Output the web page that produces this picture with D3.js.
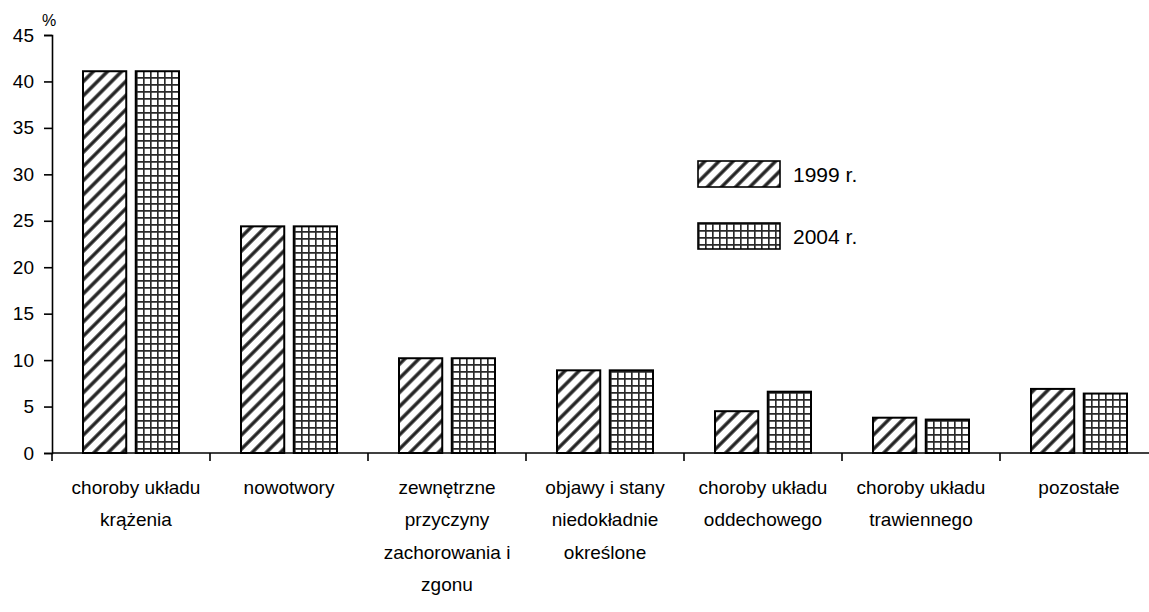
<!DOCTYPE html>
<html>
<head>
<meta charset="utf-8">
<script src="https://cdn.jsdelivr.net/npm/d3@7"></script>
<style>
  body { margin: 0; background: #fff; }
  text { font-family: "Liberation Sans", Arial, sans-serif; fill: #000; }
</style>
</head>
<body>
<div id="drawingArea"></div>
<script>
// data
var categories = [
    "choroby układu\nkrążenia",
    "nowotwory",
    "zewnętrzne\nprzyczyny\nzachorowania i\nzgonu",
    "objawy i stany\nniedokładnie\nokreślone",
    "choroby układu\noddechowego",
    "choroby układu\ntrawiennego",
    "pozostałe"
];
var seriesNames = ["1999 r.", "2004 r."];
var values1999 = [41.1, 24.4, 10.2, 8.9, 4.5, 3.8, 6.9];
var values2004 = [41.1, 24.4, 10.2, 8.9, 6.6, 3.6, 6.4];
var yTicks = [0, 5, 10, 15, 20, 25, 30, 35, 40, 45];

var margin = {top: 35, right: 0, bottom: 159, left: 52},
    fullWidth = 1149, fullHeight = 612,
    width = 1106,
    height = fullHeight - margin.top - margin.bottom;

var svg = d3.select("#drawingArea").append("svg")
    .attr("width", fullWidth)
    .attr("height", fullHeight);

// patterns
var defs = svg.append("defs");
var diag = defs.append("pattern")
    .attr("id", "diag")
    .attr("patternUnits", "userSpaceOnUse")
    .attr("width", 10).attr("height", 10)
    .attr("patternTransform", "rotate(45)");
diag.append("rect").attr("width", 10).attr("height", 10).attr("fill", "#fff");
diag.append("line")
    .attr("x1", 5).attr("y1", 0).attr("x2", 5).attr("y2", 10)
    .attr("stroke", "#222").attr("stroke-width", 3.4);

var grid = defs.append("pattern")
    .attr("id", "grid")
    .attr("patternUnits", "userSpaceOnUse")
    .attr("width", 7).attr("height", 7);
grid.append("rect").attr("width", 7).attr("height", 7).attr("fill", "#fff");
grid.append("path")
    .attr("d", "M0,0.8H7M0.8,0V7")
    .attr("stroke", "#2a2a2a").attr("stroke-width", 1.7).attr("fill", "none");

var fills = ["url(#diag)", "url(#grid)"];

var g = svg.append("g")
    .attr("transform", "translate(" + margin.left + "," + margin.top + ")");

// scales
var x0 = d3.scaleBand()
    .domain(categories)
    .range([0, width]);

var x1 = d3.scaleBand()
    .domain(seriesNames)
    .range([31, x0.bandwidth() - 31])
    .paddingInner(0.18);

var y = d3.scaleLinear()
    .domain([0, 45])
    .range([height, 0]);

var data = categories.map(function(c, i) {
    return {cat: c, vals: [values1999[i], values2004[i]]};
});

// bars
var groups = g.selectAll(".cat")
    .data(data)
    .enter().append("g")
    .attr("transform", function(d) { return "translate(" + x0(d.cat) + ",0)"; });

groups.selectAll("rect")
    .data(function(d) { return d.vals.map(function(v, j) { return {s: seriesNames[j], v: v, j: j}; }); })
    .enter().append("rect")
    .attr("x", function(d) { return x1(d.s); })
    .attr("y", function(d) { return y(d.v); })
    .attr("width", x1.bandwidth())
    .attr("height", function(d) { return height - y(d.v); })
    .attr("fill", function(d) { return fills[d.j]; })
    .attr("stroke", "#000")
    .attr("stroke-width", 2);

// y axis
var yAxis = g.append("g")
    .call(d3.axisLeft(y).tickValues(yTicks).tickSize(8).tickPadding(10));
yAxis.select(".domain").attr("stroke-width", 1.6);
yAxis.selectAll(".tick line").attr("stroke-width", 1.6);
yAxis.selectAll("text")
    .style("font-size", "19px")
    .style("font-family", "'Liberation Sans', Arial, sans-serif");

// x axis line and ticks at category boundaries
g.append("line")
    .attr("x1", 0).attr("x2", width)
    .attr("y1", height).attr("y2", height)
    .attr("stroke", "#000").attr("stroke-width", 1.6);

g.selectAll(".xtick")
    .data(categories)
    .enter().append("line")
    .attr("x1", function(d) { return x0(d); })
    .attr("x2", function(d) { return x0(d); })
    .attr("y1", height).attr("y2", height + 8)
    .attr("stroke", "#000").attr("stroke-width", 1.6);

// category labels
var labels = g.selectAll(".xlabel")
    .data(categories)
    .enter().append("text")
    .attr("text-anchor", "middle")
    .attr("transform", function(d, i) {
        var shift = i === 0 ? 5 : 0;   // first label sits a bit right of centre
        return "translate(" + (x0(d) + x0.bandwidth() / 2 + shift) + "," + (height + 41) + ")";
    })
    .style("font-size", "19px");

labels.selectAll("tspan")
    .data(function(d) { return d.split("\n"); })
    .enter().append("tspan")
    .attr("x", 0)
    .attr("y", function(d, i) { return i * 32.3; })
    .text(function(d) { return d; });

// unit label
g.append("text")
    .attr("x", -3).attr("y", -9)
    .attr("text-anchor", "middle")
    .style("font-size", "16px")
    .text("%");

// legend
var legend = svg.append("g")
    .attr("transform", "translate(698,161)");

var items = legend.selectAll(".item")
    .data(seriesNames)
    .enter().append("g")
    .attr("transform", function(d, i) { return "translate(0," + (i * 62) + ")"; });

items.append("rect")
    .attr("width", 82).attr("height", 26)
    .attr("fill", function(d, i) { return fills[i]; })
    .attr("stroke", "#000").attr("stroke-width", 1.6);

items.append("text")
    .attr("x", 95).attr("y", 21)
    .style("font-size", "21px")
    .text(function(d) { return d; });
</script>
</body>
</html>
